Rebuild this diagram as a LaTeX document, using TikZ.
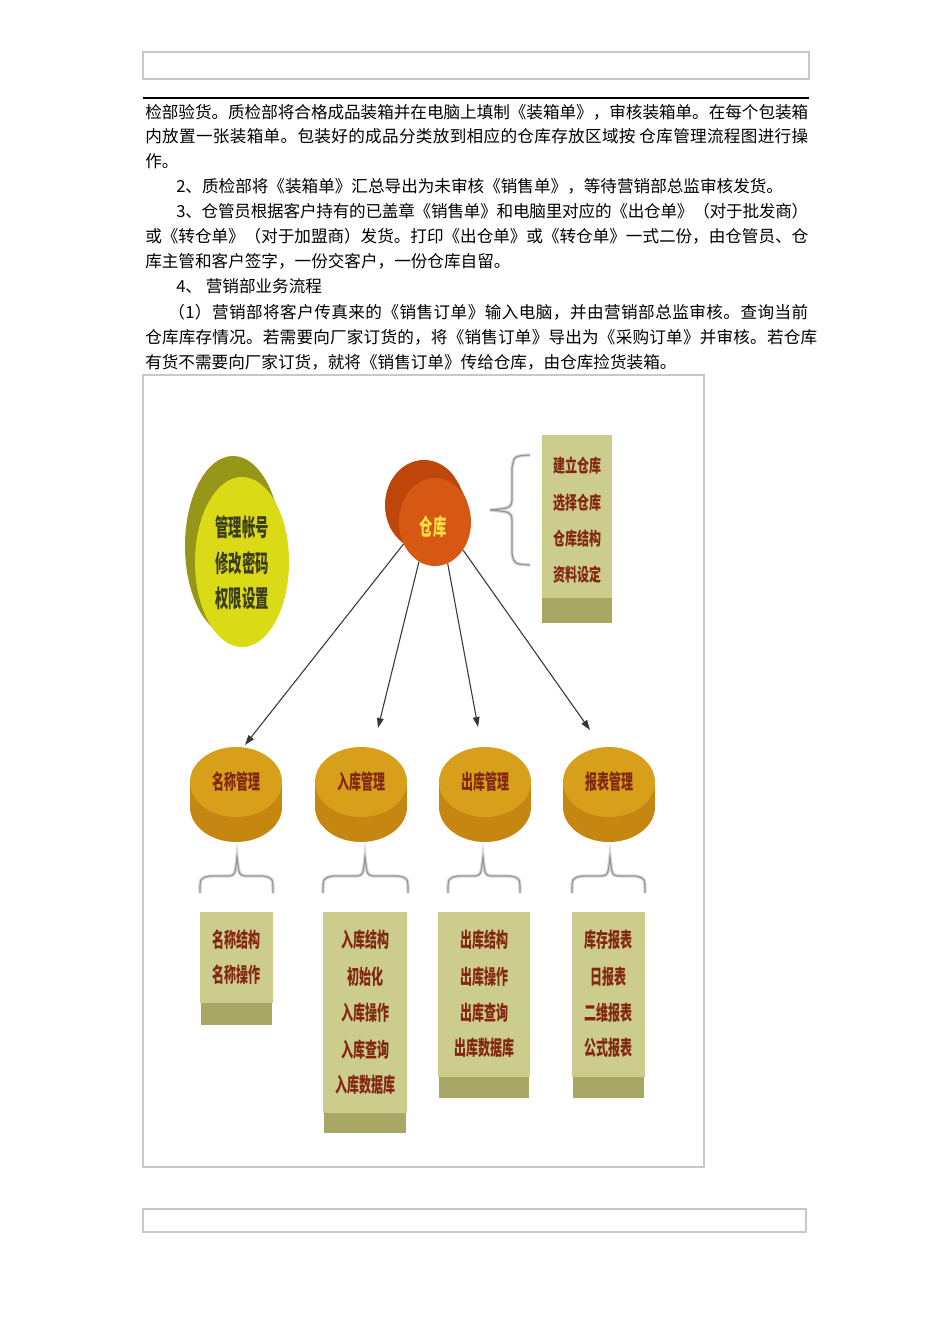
\documentclass[tikz,border=0pt]{standalone}
\usepackage{fontspec}
\usepackage{graphicx}
\usetikzlibrary{arrows.meta,shapes.geometric}
\newfontfamily\cjk{Noto Sans CJK SC}
\newcount\cc
\def\setcls#1#2{\cc=#1 \loop\XeTeXcharclass\cc=1 \ifnum\cc<#2 \advance\cc by 1 \repeat}
\setcls{"3000}{"303F}\setcls{"4E00}{"9FFF}\setcls{"FF00}{"FFEF}
\XeTeXinterchartokenstate=1
\XeTeXinterchartoks 1 1 = {\hskip 0pt plus 3pt minus 1pt}
\XeTeXinterchartoks 0 1 = {\hskip 0pt plus 3pt minus 1pt}
\XeTeXinterchartoks 1 0 = {\hskip 0pt plus 3pt minus 1pt}
\definecolor{frame}{RGB}{200,200,200}
\definecolor{olivedk}{RGB}{150,150,25}
\definecolor{yellowfr}{RGB}{218,218,22}
\definecolor{acctxt}{RGB}{60,60,30}
\definecolor{orangebk}{RGB}{190,70,10}
\definecolor{orangefr}{RGB}{214,88,18}
\definecolor{whtxt}{RGB}{255,225,70}
\definecolor{disctop}{RGB}{216,160,26}
\definecolor{discside}{RGB}{198,135,18}
\definecolor{khaki}{RGB}{204,204,140}
\definecolor{khakidk}{RGB}{168,168,100}
\definecolor{redtxt}{RGB}{130,40,18}
\definecolor{arrowc}{RGB}{55,55,55}
\definecolor{bracec}{RGB}{150,150,150}
\newcommand\tall[2][1.7]{\scalebox{1}[#1]{#2}}
\newcommand\dbrace[3]{%
  \draw[bshadow] (#1,893) .. controls (#1,878) .. (#1+10,876) -- (#2-8,876) .. controls (#2-2,875) .. (#2,857) .. controls (#2+2,875) .. (#2+8,876) -- (#3-10,876) .. controls (#3,878) .. (#3,893);
  \draw[bline] (#1,893) .. controls (#1,878) .. (#1+10,876) -- (#2-8,876) .. controls (#2-2,875) .. (#2,857) .. controls (#2+2,875) .. (#2+8,876) -- (#3-10,876) .. controls (#3,878) .. (#3,893);}
\tikzset{
  para/.style={anchor=base west, inner sep=0, font=\cjk\fontsize{12.45pt}{15pt}\selectfont},
  bshadow/.style={draw=gray!30, line width=2.6pt},
  bline/.style={draw=bracec, line width=0.9pt},
  conn/.style={draw=arrowc, line width=0.8pt, -{Triangle[length=7.5pt,width=5pt]}},
  lbl/.style={inner sep=0, text=redtxt, font=\cjk\bfseries\fontsize{9pt}{9pt}\selectfont},
  disc/.style={ellipse, inner sep=0, minimum width=69pt, minimum height=52.5pt, fill=disctop},
  discb/.style={ellipse, inner sep=0, minimum width=69pt, minimum height=52.5pt, fill=discside},
  kbox/.style={fill=khaki, inner sep=0}
}
\begin{document}
\begin{tikzpicture}[x=0.75pt,y=-0.75pt]
\useasboundingbox (0,0) rectangle (950,1344);
\fill[white] (0,0) rectangle (950,1344);
% header and footer frames
\draw[frame, line width=0.8pt] (143,52) rectangle (809,79);
\draw[black, line width=1.4pt] (143,98) -- (809,98);
\draw[frame, line width=0.8pt] (143,1209) rectangle (806,1232);
% paragraph text
\node[para] (l1) at (145,119) {\makebox[497.25pt][s]{检部验货。质检部将合格成品装箱并在电脑上填制《装箱单》，审核装箱单。在每个包装箱}};
\node[para] (l2) at (145,143) {\makebox[497.25pt][s]{内放置一张装箱单。包装好的成品分类放到相应的仓库存放区域按 仓库管理流程图进行操}};
\node[para] (l3) at (145,168) {作。};
\node[para] (l4) at (176,193) {2、质检部将《装箱单》汇总导出为未审核《销售单》，等待营销部总监审核发货。};
\node[para] (l5) at (176,218) {\makebox[474pt][s]{3、仓管员根据客户持有的已盖章《销售单》和电脑里对应的《出仓单》（对于批发商）}};
\node[para] (l6) at (145,243) {\makebox[497.25pt][s]{或《转仓单》（对于加盟商）发货。打印《出仓单》或《转仓单》一式二份，由仓管员、仓}};
\node[para] (l7) at (145,268) {库主管和客户签字，一份交客户，一份仓库自留。};
\node[para] (l8) at (176,293) {4、 营销部业务流程};
\node[para] (l9) at (168,318) {\makebox[480pt][s]{（1）营销部将客户传真来的《销售订单》输入电脑，并由营销部总监审核。查询当前}};
\node[para] (l10) at (145,343) {\makebox[504pt][s]{仓库库存情况。若需要向厂家订货的，将《销售订单》导出为《采购订单》并审核。若仓库}};
\node[para] (l11) at (145,368) {有货不需要向厂家订货，就将《销售订单》传给仓库，由仓库捡货装箱。};
% picture frame
\draw[frame, line width=0.8pt] (143,375) rectangle (704,1167);
% account cylinder
\node[ellipse, fill=olivedk, inner sep=0, minimum width=72pt, minimum height=135pt] (acctback) at (233,546) {};
\node[ellipse, inner sep=0, minimum width=70.5pt, minimum height=127.5pt] (account) at (242,562) {};
\fill[olivedk] (acctback.30) -- (account.30) -- (account.210) -- (acctback.210) -- cycle;
\node[ellipse, fill=yellowfr, inner sep=0, minimum width=70.5pt, minimum height=127.5pt] (acctfront) at (account) {};
\node[lbl, text=acctxt, font=\cjk\bfseries\fontsize{10pt}{10pt}\selectfont] (a1) at (242,527) {\tall[1.8]{管理帐号}};
\node[lbl, text=acctxt, font=\cjk\bfseries\fontsize{10pt}{10pt}\selectfont] (a2) at (242,563) {\tall[1.8]{修改密码}};
\node[lbl, text=acctxt, font=\cjk\bfseries\fontsize{10pt}{10pt}\selectfont] (a3) at (242,598) {\tall[1.8]{权限设置}};
% warehouse cylinder
\node[ellipse, fill=orangebk, inner sep=0, minimum width=58.5pt, minimum height=67.5pt] (whback) at (424,505) {};
\node[ellipse, inner sep=0, minimum width=54pt, minimum height=66pt] (warehouse) at (435,522) {};
\fill[orangebk] (whback.33) -- (warehouse.33) -- (warehouse.213) -- (whback.213) -- cycle;
\node[ellipse, fill=orangefr, inner sep=0, minimum width=54pt, minimum height=66pt] (whfront) at (warehouse) {};
\node[lbl, text=whtxt, font=\cjk\bfseries\fontsize{10pt}{10pt}\selectfont] (whlabel) at (433,527) {\tall[1.7]{仓库}};
% left brace and top-right box
\draw[bshadow] (530,455) .. controls (514,456) .. (512,468) -- (512,500) .. controls (511,508) .. (490,510) .. controls (511,512) .. (512,520) -- (512,553) .. controls (514,564) .. (530,565);
\draw[bline] (530,455) .. controls (514,456) .. (512,468) -- (512,500) .. controls (511,508) .. (490,510) .. controls (511,512) .. (512,520) -- (512,553) .. controls (514,564) .. (530,565);
\fill[khaki] (542,435) rectangle (612,598);
\fill[khakidk] (542,598) rectangle (612,623);
\node[lbl] (w1) at (577,466) {\tall[1.5]{建立仓库}};
\node[lbl] (w2) at (577,503) {\tall[1.5]{选择仓库}};
\node[lbl] (w3) at (577,539) {\tall[1.5]{仓库结构}};
\node[lbl] (w4) at (577,575) {\tall[1.5]{资料设定}};
% discs
\foreach \n/\cx in {1/236,2/361,3/485,4/609}{
  \node[discb] (discb\n) at (\cx,807) {};
  \fill[discside] (\cx-46,782) rectangle (\cx+46,807);
}
\node[disc] (disc1) at (236,782) {};
\node[disc] (disc2) at (361,782) {};
\node[disc] (disc3) at (485,782) {};
\node[disc] (disc4) at (609,782) {};
\node[lbl] (d1) at (disc1) {\tall{名称管理}};
\node[lbl] (d2) at (disc2) {\tall{入库管理}};
\node[lbl] (d3) at (disc3) {\tall{出库管理}};
\node[lbl] (d4) at (disc4) {\tall{报表管理}};
% arrows
\coordinate (t1) at (245,745);
\coordinate (t2) at (378,728);
\coordinate (t3) at (478,727);
\coordinate (t4) at (590,730);
\draw[conn] (warehouse.215) -- (t1);
\draw[conn] (warehouse.248) -- (t2);
\draw[conn] (warehouse.287) -- (t3);
\draw[conn] (warehouse.315) -- (t4);
% lower braces
\dbrace{200}{237}{273}
\dbrace{323}{365}{408}
\dbrace{448}{483}{520}
\dbrace{572}{610}{645}
% lower boxes
\fill[khaki] (200,912) rectangle (273,1003);
\fill[khakidk] (201,1003) rectangle (272,1025);
\fill[khaki] (323,912) rectangle (407,1113);
\fill[khakidk] (324,1113) rectangle (406,1133);
\fill[khaki] (438,912) rectangle (530,1077);
\fill[khakidk] (439,1077) rectangle (529,1098);
\fill[khaki] (572,912) rectangle (645,1077);
\fill[khakidk] (573,1077) rectangle (644,1098);
\node[lbl] (b11) at (236.5,940) {\tall{名称结构}};
\node[lbl] (b12) at (236.5,975) {\tall{名称操作}};
\node[lbl] (b21) at (365,940) {\tall{入库结构}};
\node[lbl] (b22) at (365,977) {\tall{初始化}};
\node[lbl] (b23) at (365,1013) {\tall{入库操作}};
\node[lbl] (b24) at (365,1050) {\tall{入库查询}};
\node[lbl] (b25) at (365,1085) {\tall{入库数据库}};
\node[lbl] (b31) at (484,940) {\tall{出库结构}};
\node[lbl] (b32) at (484,977) {\tall{出库操作}};
\node[lbl] (b33) at (484,1013) {\tall{出库查询}};
\node[lbl] (b34) at (484,1048) {\tall{出库数据库}};
\node[lbl] (b41) at (608.5,940) {\tall{库存报表}};
\node[lbl] (b42) at (608.5,977) {\tall{日报表}};
\node[lbl] (b43) at (608.5,1013) {\tall{二维报表}};
\node[lbl] (b44) at (608.5,1048) {\tall{公式报表}};
\end{tikzpicture}
\end{document}
